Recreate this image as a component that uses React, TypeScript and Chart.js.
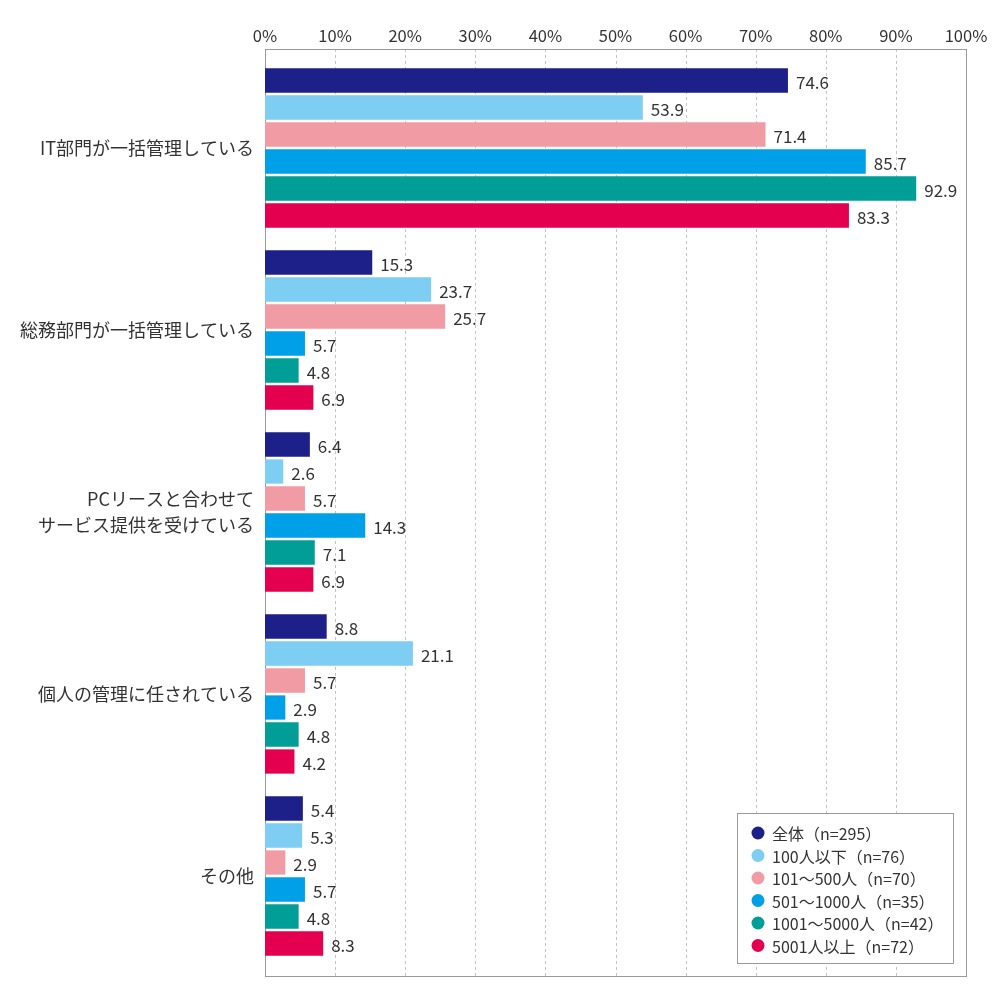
import { useEffect, useRef } from "react"
import { Chart, registerables } from "chart.js"

Chart.register(...registerables)

const FONT = '"Noto Sans CJK JP", "Noto Sans", sans-serif'

const categories = [
  "IT部門が一括管理している",
  "総務部門が一括管理している",
  ["PCリースと合わせて", "サービス提供を受けている"],
  "個人の管理に任されている",
  "その他",
]

const seriesLabels = [
  "全体（n=295）",
  "100人以下（n=76）",
  "101～500人（n=70）",
  "501～1000人（n=35）",
  "1001～5000人（n=42）",
  "5001人以上（n=72）",
]

const seriesColors = ["#1d2088", "#7ecef4", "#f19ba5", "#00a0e9", "#009e96", "#e5004f"]

const allValues = [74.6, 15.3, 6.4, 8.8, 5.4]
const upTo100 = [53.9, 23.7, 2.6, 21.1, 5.3]
const from101to500 = [71.4, 25.7, 5.7, 5.7, 2.9]
const from501to1000 = [85.7, 5.7, 14.3, 2.9, 5.7]
const from1001to5000 = [92.9, 4.8, 7.1, 4.8, 4.8]
const over5001 = [83.3, 6.9, 6.9, 4.2, 8.3]

const seriesValues = [allValues, upTo100, from101to500, from501to1000, from1001to5000, over5001]

const tickValues = [0, 10, 20, 30, 40, 50, 60, 70, 80, 90, 100]

// plot frame sits a little outside the category band
const FRAME_TOP = 8
const FRAME_BOTTOM = 9

const framePlugin = {
  id: "frame",
  beforeDatasetsDraw(chart: Chart) {
    const { ctx, chartArea } = chart
    const x = chart.scales.x
    const top = chartArea.top - FRAME_TOP
    const bottom = chartArea.bottom + FRAME_BOTTOM
    ctx.save()
    ctx.strokeStyle = "#c4c4c4"
    ctx.lineWidth = 1
    ctx.setLineDash([3, 3])
    tickValues.slice(1, -1).forEach((v) => {
      const px = Math.round(x.getPixelForValue(v)) + 0.5
      ctx.beginPath()
      ctx.moveTo(px, top)
      ctx.lineTo(px, bottom)
      ctx.stroke()
    })
    ctx.setLineDash([])
    ctx.strokeStyle = "#9a9a9a"
    ctx.strokeRect(
      Math.round(chartArea.left) + 0.5,
      Math.round(top) + 0.5,
      Math.round(chartArea.right - chartArea.left),
      Math.round(bottom - top)
    )
    ctx.restore()
  },
  afterDatasetsDraw(chart: Chart) {
    const { ctx } = chart
    ctx.save()
    ctx.font = `17px ${FONT}`
    ctx.fillStyle = "#333333"
    ctx.textAlign = "left"
    ctx.textBaseline = "middle"
    chart.data.datasets.forEach((ds, i) => {
      const meta = chart.getDatasetMeta(i)
      meta.data.forEach((bar: any, j: number) => {
        const v = ds.data[j] as number
        ctx.fillText(v.toFixed(1), bar.x + 8, bar.y + 2)
      })
    })
    ctx.restore()
  },
  afterDraw(chart: Chart) {
    const { ctx } = chart
    const boxX = 737
    const boxY = 813
    const boxW = 216
    const boxH = 150
    ctx.save()
    ctx.fillStyle = "#ffffff"
    ctx.fillRect(boxX, boxY, boxW, boxH)
    ctx.strokeStyle = "#9a9a9a"
    ctx.lineWidth = 1
    ctx.strokeRect(boxX + 0.5, boxY + 0.5, boxW, boxH)
    ctx.font = `16px ${FONT}`
    ctx.textAlign = "left"
    ctx.textBaseline = "middle"
    seriesLabels.forEach((label, i) => {
      const cy = boxY + 20 + i * 22.5
      ctx.beginPath()
      ctx.fillStyle = seriesColors[i]
      ctx.arc(758, cy, 6.5, 0, Math.PI * 2)
      ctx.fill()
      ctx.fillStyle = "#333333"
      ctx.fillText(label, 772, cy + 1)
    })
    ctx.restore()
  },
}

export default function App() {
  const chartRef = useRef<HTMLCanvasElement>(null)
  const chartInstance = useRef<Chart | null>(null)

  useEffect(() => {
    if (!chartRef.current) return

    if (chartInstance.current) {
      chartInstance.current.destroy()
    }

    const ctx = chartRef.current.getContext("2d")
    if (!ctx) return

    chartInstance.current = new Chart(ctx, {
      type: "bar",
      data: {
        labels: categories,
        datasets: seriesValues.map((data, i) => ({
          label: seriesLabels[i],
          data,
          backgroundColor: seriesColors[i],
          borderWidth: 0,
          barPercentage: 0.9,
          categoryPercentage: 0.89,
        })),
      },
      options: {
        indexAxis: "y",
        animation: false,
        responsive: true,
        maintainAspectRatio: false,
        layout: {
          padding: { top: 0, left: 0, right: 34, bottom: 33 },
        },
        plugins: {
          legend: { display: false },
          tooltip: { enabled: false },
        },
        scales: {
          x: {
            position: "top",
            min: 0,
            max: 100,
            afterBuildTicks: (scale: any) => {
              scale.ticks = tickValues.map((value) => ({ value }))
            },
            afterFit: (scale: any) => {
              scale.height = 57
            },
            grid: { display: false, drawTicks: false },
            border: { display: false },
            ticks: {
              padding: 11,
              color: "#333333",
              font: { family: FONT, size: 16.5 },
              maxRotation: 0,
              autoSkip: false,
              callback: (v) => `${v}%`,
            },
          },
          y: {
            afterFit: (scale: any) => {
              scale.width = 265
            },
            grid: { display: false, drawTicks: false },
            border: { display: false },
            ticks: {
              padding: 11,
              color: "#333333",
              font: { family: FONT, size: 18, lineHeight: 1.45 },
              autoSkip: false,
            },
          },
        },
      },
      plugins: [framePlugin],
    })

    return () => {
      if (chartInstance.current) {
        chartInstance.current.destroy()
      }
    }
  }, [])

  return (
    <div style={{ position: "fixed", left: 0, top: 0, width: 1000, height: 1000, background: "#fff" }}>
      <canvas ref={chartRef} />
    </div>
  )
}
